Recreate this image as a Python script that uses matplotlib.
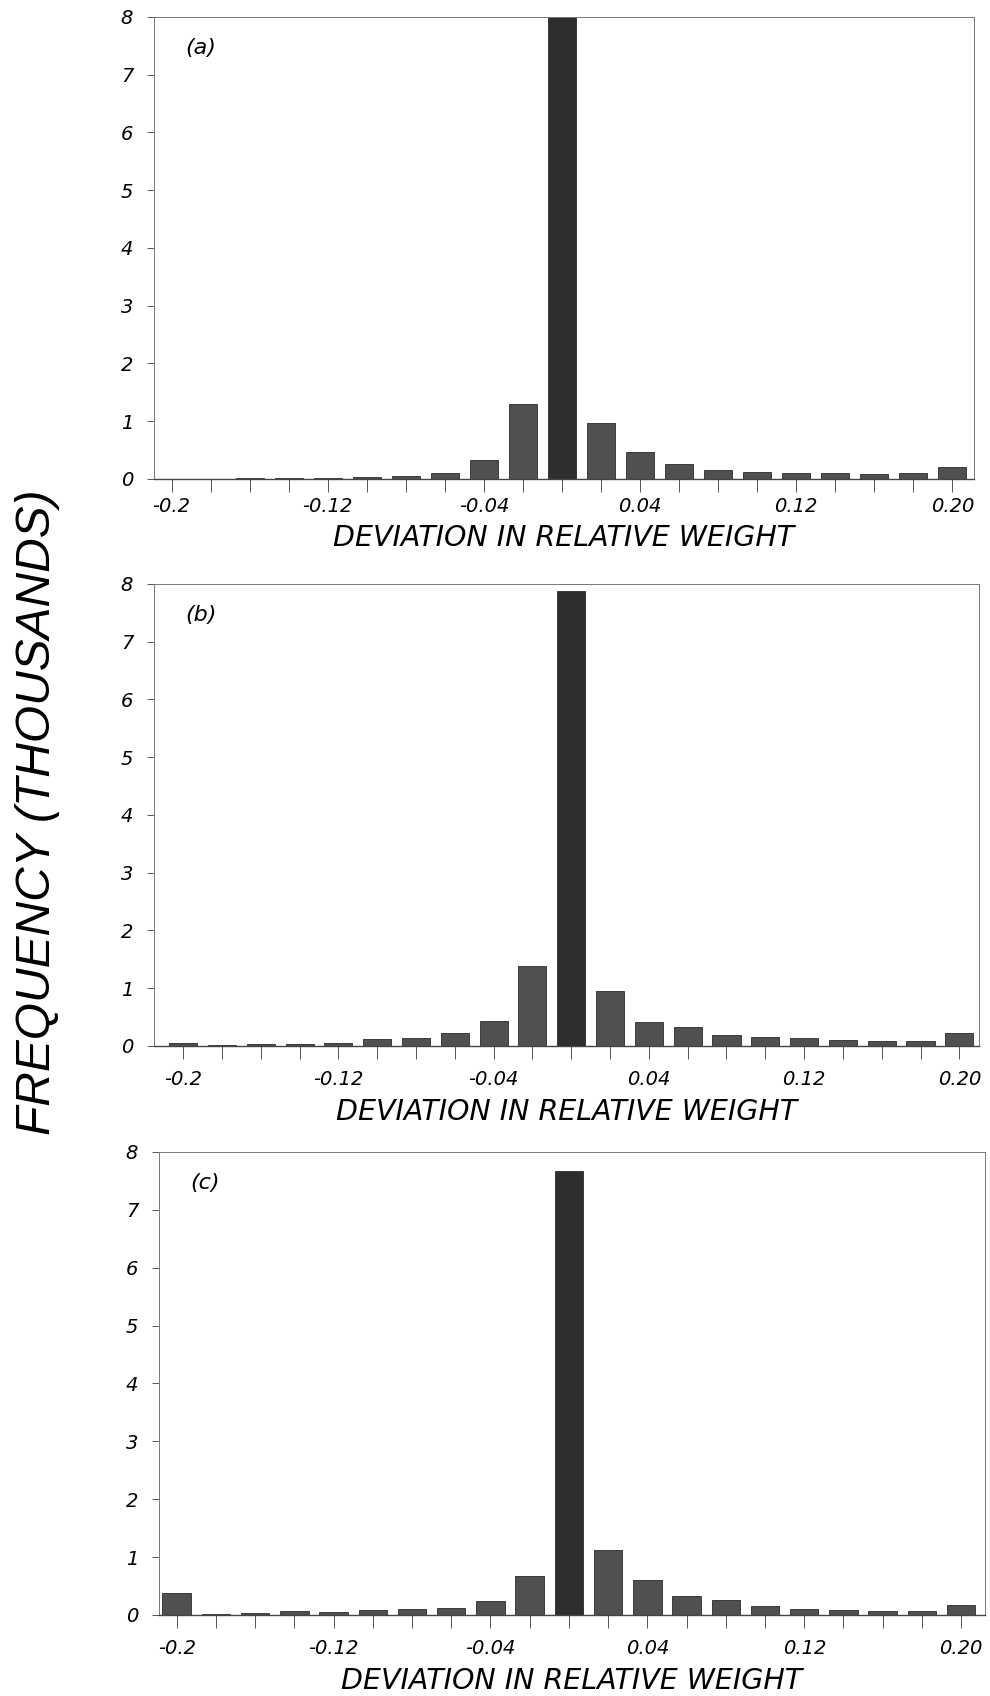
import numpy as np
import matplotlib
matplotlib.use('Agg')
import matplotlib.pyplot as plt

matplotlib.rcParams['font.family'] = 'DejaVu Sans'

# bin centres (deviation in relative weight)
bins = [-0.20, -0.18, -0.16, -0.14, -0.12, -0.10, -0.08, -0.06, -0.04, -0.02,
        0.00, 0.02, 0.04, 0.06, 0.08, 0.10, 0.12, 0.14, 0.16, 0.18, 0.20]

# frequency in thousands
freq_a = [0.005, 0.005, 0.01, 0.01, 0.02, 0.03, 0.05, 0.10, 0.32, 1.30,
          8.0, 0.97, 0.46, 0.26, 0.15, 0.12, 0.10, 0.10, 0.08, 0.10, 0.20]
freq_b = [0.05, 0.02, 0.04, 0.04, 0.05, 0.12, 0.13, 0.22, 0.44, 1.39,
          7.88, 0.95, 0.42, 0.33, 0.19, 0.15, 0.13, 0.11, 0.09, 0.08, 0.22]
freq_c = [0.38, 0.02, 0.03, 0.06, 0.05, 0.08, 0.11, 0.12, 0.24, 0.68,
          7.67, 1.13, 0.61, 0.33, 0.26, 0.15, 0.10, 0.08, 0.06, 0.06, 0.17]

tick_pos = [-0.20, -0.12, -0.04, 0.04, 0.12, 0.20]
tick_lab = ['-0.2', '-0.12', '-0.04', '0.04', '0.12', '0.20']
yticks = [0, 1, 2, 3, 4, 5, 6, 7, 8]

fig = plt.figure(figsize=(9.9, 16.96), dpi=100)

# axes boxes (left, bottom, width, height), x limits, tick pad, label pad
panels = [
    ('(a)', freq_a, [0.1556, 0.7176, 0.828, 0.2724], (-0.209, 0.211), 4, 6),
    ('(b)', freq_b, [0.1556, 0.3833, 0.833, 0.2724], (-0.215, 0.210), 8, 7),
    ('(c)', freq_c, [0.1606, 0.0478, 0.834, 0.2730], (-0.209, 0.212), 8, 7),
]

for tag, freq, box, xl, tpad, lpad in panels:
    ax = fig.add_axes(box)
    cols = ['#2e2e2e' if b == 0 else '#505050' for b in bins]
    ax.bar(bins, freq, width=0.0145, color=cols, edgecolor='#2a2a2a', linewidth=0.6)
    ax.set_xlim(*xl)
    ax.set_ylim(0, 8)
    ax.set_xticks(tick_pos)
    ax.set_xticklabels(tick_lab, fontstyle='italic', fontsize=14)
    ax.set_xticks(bins, minor=True)
    ax.set_yticks(yticks)
    ax.set_yticklabels([str(v) for v in yticks], fontstyle='italic', fontsize=14)
    ax.tick_params(axis='x', which='both', direction='out', length=9, width=0.7,
                   color='#555555', pad=tpad)
    ax.tick_params(axis='y', direction='out', length=5, width=0.7, color='#555555', pad=10)
    for s in ax.spines.values():
        s.set_linewidth(0.7)
        s.set_color('#777777')
    ax.spines['bottom'].set_color('#444444')
    ax.spines['bottom'].set_linewidth(1.0)
    ax.text(0.038, 0.955, tag, transform=ax.transAxes, fontstyle='italic',
            fontsize=16, va='top', ha='left')
    ax.set_xlabel('DEVIATION IN RELATIVE WEIGHT', fontstyle='italic', fontsize=20.5,
                  labelpad=lpad)

fig.text(0.038, 0.521, 'FREQUENCY (THOUSANDS)', rotation=90, fontstyle='italic',
         fontsize=34.5, ha='center', va='center', family='Liberation Sans')

fig.savefig('out.png', dpi=100)
